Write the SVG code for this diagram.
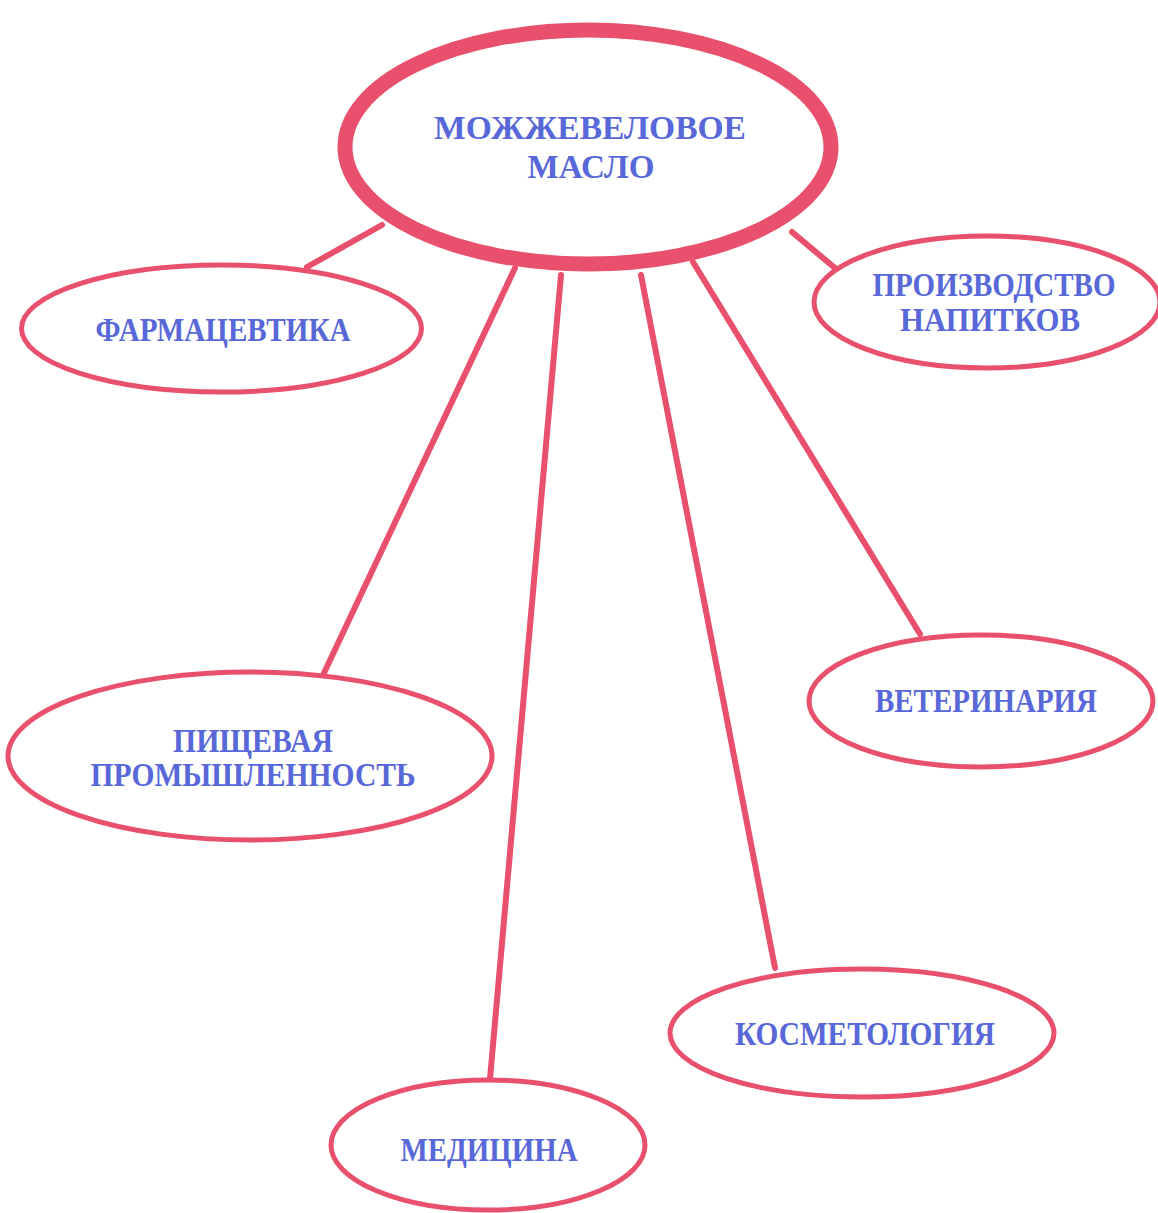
<svg xmlns="http://www.w3.org/2000/svg" width="1158" height="1213" viewBox="0 0 1158 1213">
<style>
.c{stroke:#e8506e;stroke-width:6;stroke-linecap:round;fill:none}
.n{fill:#ffffff;stroke:#e8506e;stroke-width:5}
.m{fill:#ffffff;stroke:#e8506e;stroke-width:15}
.t{font-family:"Liberation Serif","Times New Roman",serif;font-weight:bold;font-size:33px;fill:#5868d8;text-anchor:middle}
</style>
<rect width="1158" height="1213" fill="#ffffff"/>
<g id="connectors">
<line class="c" x1="382" y1="225" x2="307" y2="267"/>
<line class="c" x1="792" y1="232" x2="835" y2="268"/>
<line class="c" x1="515" y1="268" x2="324" y2="673"/>
<line class="c" x1="561" y1="275" x2="490" y2="1079"/>
<line class="c" x1="641" y1="275" x2="775" y2="968"/>
<line class="c" x1="693" y1="262" x2="920" y2="634"/>
</g>
<g id="center">
<ellipse class="m" cx="588" cy="147" rx="243" ry="117"/>
<text class="t" x="590" y="139" textLength="312" lengthAdjust="spacingAndGlyphs">МОЖЖЕВЕЛОВОЕ</text>
<text class="t" x="591" y="178" textLength="127" lengthAdjust="spacingAndGlyphs">МАСЛО</text>
</g>
<g id="farmacevtika">
<ellipse class="n" cx="221.5" cy="328.5" rx="200" ry="63.5"/>
<text class="t" x="223" y="341" textLength="255" lengthAdjust="spacingAndGlyphs">ФАРМАЦЕВТИКА</text>
</g>
<g id="napitki">
<ellipse class="n" cx="987" cy="302" rx="173" ry="66"/>
<text class="t" x="994" y="296" textLength="243" lengthAdjust="spacingAndGlyphs">ПРОИЗВОДСТВО</text>
<text class="t" x="990" y="331" textLength="180" lengthAdjust="spacingAndGlyphs">НАПИТКОВ</text>
</g>
<g id="pishchevaya">
<ellipse class="n" cx="250" cy="756" rx="242" ry="84"/>
<text class="t" x="253" y="752" textLength="160" lengthAdjust="spacingAndGlyphs">ПИЩЕВАЯ</text>
<text class="t" x="253" y="786" textLength="325" lengthAdjust="spacingAndGlyphs">ПРОМЫШЛЕННОСТЬ</text>
</g>
<g id="veterinariya">
<ellipse class="n" cx="981" cy="701" rx="172" ry="66"/>
<text class="t" x="986" y="712" textLength="222" lengthAdjust="spacingAndGlyphs">ВЕТЕРИНАРИЯ</text>
</g>
<g id="kosmetologiya">
<ellipse class="n" cx="862" cy="1033" rx="192" ry="64"/>
<text class="t" x="865" y="1045" textLength="260" lengthAdjust="spacingAndGlyphs">КОСМЕТОЛОГИЯ</text>
</g>
<g id="medicina">
<ellipse class="n" cx="488" cy="1145" rx="157" ry="65"/>
<text class="t" x="489" y="1161" textLength="177" lengthAdjust="spacingAndGlyphs">МЕДИЦИНА</text>
</g>
</svg>
